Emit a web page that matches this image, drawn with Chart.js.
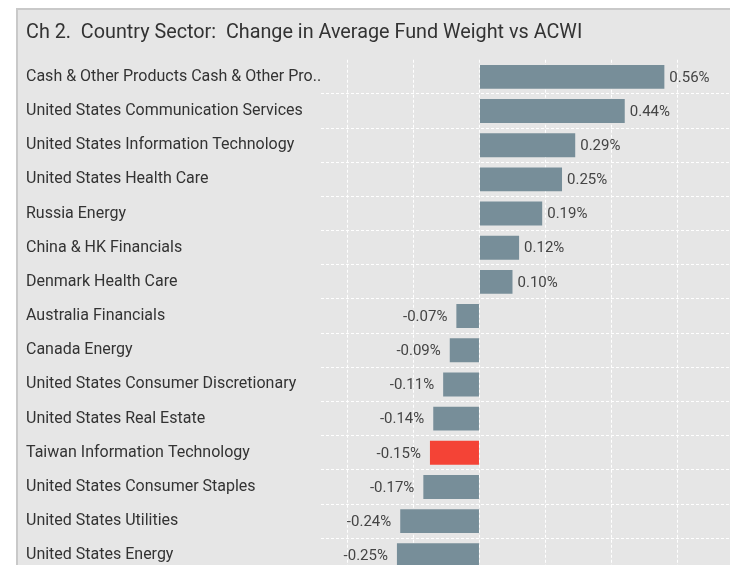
<!DOCTYPE html>
<html>
<head>
<meta charset="utf-8">
<script src="https://cdn.jsdelivr.net/npm/chart.js@4"></script>
<style>
    html, body { margin: 0; padding: 0; background: #ffffff; overflow: hidden; }
    body { width: 730px; height: 565px; position: relative; }
    .panel {
        position: absolute; left: 16px; top: 8px; width: 760px; height: 600px;
        background: #e6e6e6; border-left: 2px solid #c9c9c9; border-top: 2px solid #c9c9c9;
    }
    #chart { position: absolute; left: 0; top: 0; }
</style>
</head>
<body>
<div class="panel">
    <canvas id="chart" width="719" height="572"></canvas>
</div>
<script>
// categories, top to bottom
var categories = [
    "Cash & Other Products Cash & Other Pro..",
    "United States Communication Services",
    "United States Information Technology",
    "United States Health Care",
    "Russia Energy",
    "China & HK Financials",
    "Denmark Health Care",
    "Australia Financials",
    "Canada Energy",
    "United States Consumer Discretionary",
    "United States Real Estate",
    "Taiwan Information Technology",
    "United States Consumer Staples",
    "United States Utilities",
    "United States Energy"
];
// change in weight, percent
var changes = [0.56, 0.44, 0.29, 0.25, 0.19, 0.12, 0.10, -0.07, -0.09, -0.11, -0.14, -0.15, -0.17, -0.24, -0.25];
var highlight = "Taiwan Information Technology";
// where the vertical grid lines go
var gridValues = [-0.4, -0.2, 0, 0.2, 0.4, 0.6];

var barColor = "#778e99";
var highlightColor = "#f44336";
var colors = categories.map(function(c){
    return c == highlight ? highlightColor : barColor;
});

var fontFamily = "Roboto, 'Noto Sans', sans-serif";

// value text next to each bar
var valueLabels = {
    id: "valueLabels",
    afterDatasetsDraw: function(chart){
        var ctx = chart.ctx;
        var meta = chart.getDatasetMeta(0);
        ctx.save();
        ctx.font = "15px " + fontFamily;
        ctx.fillStyle = "#444444";
        ctx.textBaseline = "middle";
        meta.data.forEach(function(bar, i){
            var v = changes[i];
            var txt = v.toFixed(2) + "%";
            if(v >= 0){
                ctx.textAlign = "left";
                ctx.fillText(txt, bar.x + 5, bar.y + 1);
            }else{
                ctx.textAlign = "right";
                ctx.fillText(txt, bar.x - 9, bar.y + 1);
            }
        });
        ctx.restore();
    }
};

var chart = new Chart(document.getElementById("chart").getContext("2d"), {
    type: "bar",
    data: {
        labels: categories,
        datasets: [{
            data: changes,
            backgroundColor: colors,
            borderWidth: 0,
            categoryPercentage: 0.7,
            barPercentage: 1.0
        }]
    },
    options: {
        indexAxis: "y",
        responsive: false,
        animation: false,
        layout: { padding: { left: 8, right: 0, top: 0, bottom: 2 } },
        plugins: {
            legend: { display: false },
            tooltip: { enabled: false },
            title: {
                display: true,
                text: "Ch 2.  Country Sector:  Change in Average Fund Weight vs ACWI",
                align: "start",
                color: "#333333",
                font: { family: fontFamily, size: 19.8, weight: "normal", lineHeight: 1.2 },
                padding: { top: 11, bottom: 15 }
            }
        },
        scales: {
            x: {
                min: -0.48,
                max: 0.78,
                ticks: { display: false },
                afterBuildTicks: function(scale){
                    scale.ticks = gridValues.map(function(v){ return { value: v }; });
                },
                grid: { color: "#ffffff", lineWidth: 1, drawTicks: false },
                border: { display: false, dash: [3, 2] }
            },
            y: {
                afterFit: function(scale){
                    scale.width = 295;
                },
                ticks: {
                    crossAlign: "far",
                    color: "#333333",
                    padding: 0,
                    font: { family: fontFamily, size: 16 }
                },
                grid: {
                    drawTicks: false,
                    lineWidth: 1,
                    color: function(c){
                        return c.index === 0 ? "rgba(0,0,0,0)" : "#ffffff";
                    }
                },
                border: { display: false, dash: [3, 2] }
            }
        }
    },
    plugins: [valueLabels]
});
</script>
</body>
</html>
